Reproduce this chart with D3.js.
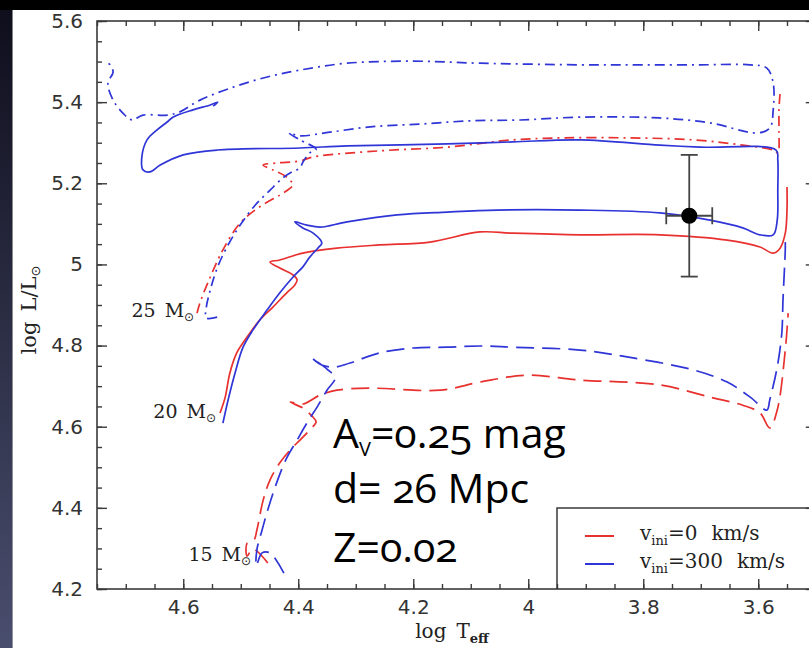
<!DOCTYPE html>
<html>
<head>
<meta charset="utf-8">
<script src="https://d3js.org/d3.v7.min.js"></script>
<style>
body { margin:0; background:#000; }
svg { display:block; }
</style>
</head>
<body>
<svg id="chart" width="809" height="648"></svg>
<script>
// evolutionary tracks, [log Teff, log L/Lsun]
// v_ini = 0 km/s (red)
var red15 = [[4.453,4.264],[4.479,4.299],[4.489,4.281],[4.489,4.313],[4.477,4.321],[4.472,4.345],[4.461,4.419],[4.449,4.469],[4.432,4.511],[4.414,4.543],[4.397,4.567],[4.380,4.592],[4.369,4.612],[4.376,4.626],[4.392,4.646],[4.414,4.661],[4.392,4.656],[4.362,4.678],[4.333,4.690],[4.275,4.695],[4.153,4.690],[4.084,4.710],[4.002,4.727],[3.910,4.715],[3.771,4.703],[3.684,4.673],[3.627,4.653],[3.597,4.634],[3.580,4.597],[3.567,4.641],[3.553,4.789],[3.548,4.880]]
var red20 = [[4.536,4.634],[4.527,4.673],[4.519,4.732],[4.507,4.782],[4.489,4.821],[4.467,4.863],[4.444,4.895],[4.420,4.930],[4.406,4.949],[4.402,4.962],[4.409,4.974],[4.432,4.991],[4.449,5.006],[4.432,5.011],[4.392,5.028],[4.333,5.040],[4.258,5.048],[4.171,5.055],[4.084,5.080],[4.027,5.077],[3.910,5.073],[3.771,5.073],[3.654,5.060],[3.597,5.043],[3.574,5.028],[3.562,5.040],[3.553,5.077],[3.550,5.134],[3.550,5.191]]
var red25 = [[4.576,4.880],[4.571,4.905],[4.553,4.969],[4.531,5.036],[4.501,5.102],[4.467,5.142],[4.432,5.171],[4.414,5.188],[4.409,5.196],[4.420,5.215],[4.444,5.233],[4.461,5.245],[4.437,5.250],[4.397,5.255],[4.374,5.265],[4.258,5.280],[4.141,5.289],[4.027,5.307],[3.940,5.312],[3.828,5.312],[3.713,5.307],[3.627,5.294],[3.574,5.282],[3.566,5.275],[3.564,5.331],[3.564,5.381],[3.562,5.423]]
// v_ini = 300 km/s (blue)
var blue15 = [[4.425,4.239],[4.449,4.289],[4.463,4.289],[4.473,4.257],[4.472,4.296],[4.463,4.345],[4.453,4.395],[4.437,4.464],[4.420,4.523],[4.402,4.567],[4.385,4.609],[4.367,4.649],[4.350,4.690],[4.336,4.720],[4.350,4.742],[4.376,4.769],[4.359,4.752],[4.336,4.747],[4.310,4.757],[4.258,4.782],[4.200,4.794],[4.141,4.796],[4.084,4.799],[4.027,4.796],[3.910,4.789],[3.828,4.772],[3.713,4.740],[3.654,4.710],[3.614,4.673],[3.585,4.641],[3.580,4.666],[3.567,4.747],[3.559,4.831],[3.557,4.912],[3.553,5.036],[3.553,5.055]]
var blue20 = [[4.531,4.609],[4.522,4.666],[4.510,4.732],[4.496,4.796],[4.479,4.838],[4.454,4.888],[4.432,4.930],[4.409,4.969],[4.392,4.994],[4.380,5.018],[4.366,5.040],[4.359,5.053],[4.374,5.077],[4.392,5.090],[4.406,5.105],[4.385,5.097],[4.362,5.092],[4.315,5.105],[4.228,5.122],[4.141,5.129],[4.054,5.134],[3.910,5.134],[3.771,5.127],[3.684,5.109],[3.627,5.090],[3.597,5.073],[3.574,5.073],[3.567,5.109],[3.566,5.183],[3.566,5.257],[3.569,5.282],[3.701,5.289],[3.771,5.294],[3.910,5.307],[4.027,5.302],[4.141,5.297],[4.315,5.292],[4.397,5.287],[4.541,5.282],[4.600,5.270],[4.640,5.245],[4.658,5.228],[4.670,5.233],[4.672,5.265],[4.663,5.307],[4.646,5.331],[4.628,5.351],[4.618,5.363],[4.583,5.381],[4.553,5.393],[4.540,5.400],[4.548,5.390]]
var blue25 = [[4.541,4.870],[4.560,4.868],[4.560,4.893],[4.553,4.937],[4.541,4.991],[4.524,5.043],[4.501,5.097],[4.475,5.146],[4.449,5.183],[4.427,5.213],[4.411,5.228],[4.397,5.238],[4.392,5.252],[4.380,5.275],[4.369,5.284],[4.397,5.307],[4.416,5.324],[4.397,5.317],[4.345,5.326],[4.275,5.339],[4.188,5.346],[4.101,5.354],[4.014,5.356],[3.910,5.363],[3.771,5.361],[3.684,5.349],[3.602,5.324],[3.580,5.336],[3.574,5.381],[3.574,5.447],[3.585,5.484],[3.614,5.492],[3.701,5.492],[3.806,5.492],[3.910,5.492],[4.084,5.496],[4.200,5.501],[4.315,5.496],[4.397,5.479],[4.454,5.462],[4.513,5.437],[4.571,5.405],[4.606,5.376],[4.628,5.368],[4.670,5.368],[4.689,5.356],[4.705,5.373],[4.722,5.405],[4.731,5.447],[4.722,5.474],[4.727,5.492],[4.731,5.496]]

// observed star with error bars
var starT = 3.72, starTerr = 0.04
var starL = 5.12, starLerr = 0.15

var xTicks = [4.6, 4.4, 4.2, 4, 3.8, 3.6]
var yTicks = [4.2, 4.4, 4.6, 4.8, 5, 5.2, 5.4, 5.6]

var massLabels = ["25", "20", "15"]
var massLabelT = [4.581, 4.543, 4.482]
var massLabelL = [4.870, 4.621, 4.269]

var legendLabels = ["=0", "=300"]
var annotation = ["=0.25 mag", "d= 26 Mpc", "Z=0.02"]

var RED = "#e8312f", BLUE = "#2f35d6"
var DASHED = "18,8", DASHDOT = "10,5,2,5"

var svg = d3.select("#chart")
var W = 809, H = 648

// slide background: black band on top, dark blue strip on the left
var defs = svg.append("defs")
var grad = defs.append("linearGradient").attr("id", "strip").attr("x1", 0).attr("x2", 0).attr("y1", 0).attr("y2", 1)
grad.append("stop").attr("offset", "0%").attr("stop-color", "#0e0e1c")
grad.append("stop").attr("offset", "100%").attr("stop-color", "#4a4e6e")
svg.append("rect").attr("width", W).attr("height", H).attr("fill", "#000")
svg.append("rect").attr("x", 0).attr("y", 10).attr("width", 12.5).attr("height", H - 10).attr("fill", "url(#strip)")
svg.append("rect").attr("x", 12.5).attr("y", 10).attr("width", W - 12.5).attr("height", H - 10).attr("fill", "#fff")

var x = d3.scaleLinear().domain([4.75, 3.5]).range([97, 815.75])
var y = d3.scaleLinear().domain([4.2, 5.6]).range([589, 21])

var AXIS = "#3a3a3a"

function styleAxis(g) {
    g.select(".domain").remove()
    g.attr("color", AXIS).attr("font-family", "DejaVu Sans").attr("font-size", 20)
    g.selectAll(".tick line").attr("stroke-width", 1.4)
    g.selectAll(".tick text").attr("fill", "#333")
}

var minorY = d3.range(4.2, 5.6001, 0.05)
var minorX = d3.range(3.5, 4.7501, 0.05)

// left
svg.append("g").attr("transform", "translate(" + x.range()[0] + ",0)")
    .call(d3.axisLeft(y).tickValues(minorY).tickSize(-5).tickFormat(""))
    .call(styleAxis)
svg.append("g").attr("transform", "translate(" + x.range()[0] + ",0)")
    .call(d3.axisLeft(y).tickValues(yTicks).tickSize(-10).tickPadding(14).tickFormat(d3.format("")))
    .call(styleAxis)
// right (mostly off the page)
svg.append("g").attr("transform", "translate(" + x.range()[1] + ",0)")
    .call(d3.axisRight(y).tickValues(minorY).tickSize(-5).tickFormat(""))
    .call(styleAxis)
svg.append("g").attr("transform", "translate(" + x.range()[1] + ",0)")
    .call(d3.axisRight(y).tickValues(yTicks).tickSize(-10).tickFormat(""))
    .call(styleAxis)
// bottom
svg.append("g").attr("transform", "translate(0," + y.range()[0] + ")")
    .call(d3.axisBottom(x).tickValues(minorX).tickSize(-5).tickFormat(""))
    .call(styleAxis)
svg.append("g").attr("transform", "translate(0," + y.range()[0] + ")")
    .call(d3.axisBottom(x).tickValues(xTicks).tickSize(-10).tickPadding(11).tickFormat(d3.format("")))
    .call(styleAxis)
// top
svg.append("g").attr("transform", "translate(0," + y.range()[1] + ")")
    .call(d3.axisTop(x).tickValues(minorX).tickSize(-5).tickFormat(""))
    .call(styleAxis)
svg.append("g").attr("transform", "translate(0," + y.range()[1] + ")")
    .call(d3.axisTop(x).tickValues(xTicks).tickSize(-10).tickFormat(""))
    .call(styleAxis)

svg.append("rect")
    .attr("x", x.range()[0]).attr("y", y.range()[1])
    .attr("width", x.range()[1] - x.range()[0]).attr("height", y.range()[0] - y.range()[1])
    .attr("fill", "none").attr("stroke", AXIS).attr("stroke-width", 1.6)

// tracks
var line = d3.line()
    .x(function(d) { return x(d[0]) })
    .y(function(d) { return y(d[1]) })
    .curve(d3.curveCatmullRom.alpha(0.5))

var tracks = [
    {data: red15, color: RED, dash: DASHED},
    {data: red20, color: RED, dash: null},
    {data: red25, color: RED, dash: DASHDOT},
    {data: blue15, color: BLUE, dash: DASHED},
    {data: blue20, color: BLUE, dash: null},
    {data: blue25, color: BLUE, dash: DASHDOT}
]

svg.append("g").selectAll("path").data(tracks).enter().append("path")
    .attr("d", function(t) { return line(t.data) })
    .attr("fill", "none")
    .attr("stroke", function(t) { return t.color })
    .attr("stroke-width", 1.7)
    .attr("stroke-linejoin", "round")
    .attr("stroke-dasharray", function(t) { return t.dash })

// mass labels at the ZAMS
var ml = svg.append("g").attr("font-family", "DejaVu Serif").attr("font-size", 19).attr("fill", "#222")
massLabels.forEach(function(m, i) {
    var t = ml.append("text")
        .attr("x", x(massLabelT[i])).attr("y", y(massLabelL[i]))
        .attr("text-anchor", "end")
    t.append("tspan").text(m)
    t.append("tspan").attr("dx", 9).text("M")
    t.append("tspan").attr("dy", 4).attr("font-size", 12).attr("font-family", "DejaVu Sans").text("\u2299")
})

// observed star
var star = svg.append("g").attr("stroke", "#444").attr("stroke-width", 1.8)
star.append("line").attr("x1", x(starT)).attr("x2", x(starT)).attr("y1", y(starL - starLerr)).attr("y2", y(starL + starLerr))
star.append("line").attr("x1", x(starT) - 8.5).attr("x2", x(starT) + 8.5).attr("y1", y(starL + starLerr)).attr("y2", y(starL + starLerr))
star.append("line").attr("x1", x(starT) - 8.5).attr("x2", x(starT) + 8.5).attr("y1", y(starL - starLerr)).attr("y2", y(starL - starLerr))
star.append("line").attr("x1", x(starT + starTerr)).attr("x2", x(starT - starTerr)).attr("y1", y(starL)).attr("y2", y(starL))
star.append("line").attr("x1", x(starT + starTerr)).attr("x2", x(starT + starTerr)).attr("y1", y(starL) - 8.5).attr("y2", y(starL) + 8.5)
star.append("line").attr("x1", x(starT - starTerr)).attr("x2", x(starT - starTerr)).attr("y1", y(starL) - 8.5).attr("y2", y(starL) + 8.5)
svg.append("circle").attr("cx", x(starT)).attr("cy", y(starL)).attr("r", 8).attr("fill", "#000")

// legend box in the lower right corner
var lx = 557, ly = 508
svg.append("path")
    .attr("d", "M" + lx + "," + y.range()[0] + "V" + ly + "H" + (x.range()[1] + 2))
    .attr("fill", "none").attr("stroke", AXIS).attr("stroke-width", 1.5)
var legend = svg.append("g").attr("font-family", "DejaVu Serif").attr("font-size", 20).attr("fill", "#222")
legendLabels.forEach(function(lab, i) {
    var yy = ly + 28 + i * 28
    legend.append("line").attr("x1", lx + 28).attr("x2", lx + 57).attr("y1", yy).attr("y2", yy)
        .attr("stroke", i == 0 ? RED : BLUE).attr("stroke-width", 2)
    var t = legend.append("text").attr("x", lx + 83).attr("y", yy + 4)
    t.append("tspan").text("v")
    t.append("tspan").attr("font-size", 13).attr("dy", 5).text("ini")
    t.append("tspan").attr("dy", -5).text(lab)
    t.append("tspan").attr("dx", 14).text("km/s")
})

// axis titles
svg.append("text")
    .attr("transform", "translate(36,310) rotate(-90)")
    .attr("text-anchor", "middle")
    .attr("font-family", "DejaVu Serif").attr("font-size", 21).attr("fill", "#222")
    .call(function(t) {
        t.append("tspan").text("log")
        t.append("tspan").attr("dx", 10).text("L/L")
        t.append("tspan").attr("dy", 4).attr("font-size", 13).attr("font-family", "DejaVu Sans").text("\u2299")
    })
svg.append("text")
    .attr("x", 452).attr("y", 638)
    .attr("text-anchor", "middle")
    .attr("font-family", "DejaVu Serif").attr("font-size", 20).attr("fill", "#222")
    .call(function(t) {
        t.append("tspan").text("log")
        t.append("tspan").attr("dx", 10).text("T")
        t.append("tspan").attr("dy", 5).attr("font-size", 13).attr("font-weight", "bold").text("eff")
    })

// slide annotation
var ann = svg.append("g").attr("font-family", "Open Sans").attr("font-size", 41).attr("fill", "#000")
    .style("font-variant-numeric", "oldstyle-nums")
var a0 = ann.append("text").attr("x", 333).attr("y", 448)
a0.append("tspan").text("A")
a0.append("tspan").attr("font-size", 20).attr("dy", 8).text("V")
a0.append("tspan").attr("dy", -8).text(annotation[0])
ann.append("text").attr("x", 333).attr("y", 503).text(annotation[1])
ann.append("text").attr("x", 333).attr("y", 562).text(annotation[2])
</script>
</body>
</html>
